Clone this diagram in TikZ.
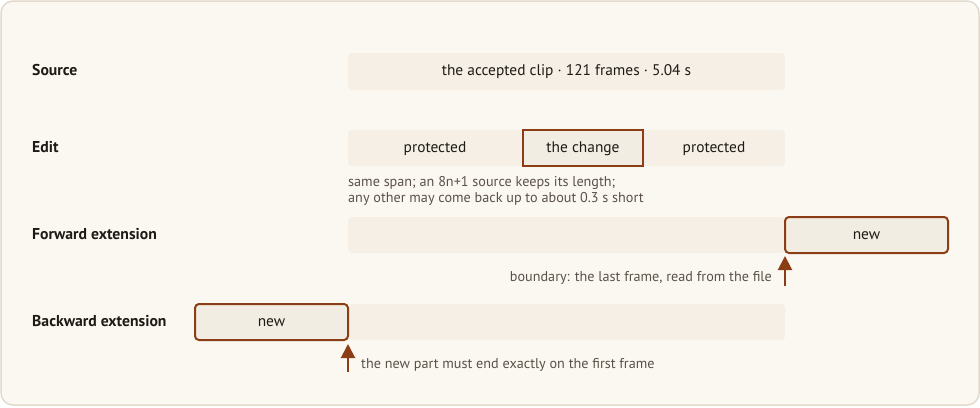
\documentclass[tikz,border=0pt]{standalone}
\usepackage{fontspec}
\setmainfont{PT Sans}
\usetikzlibrary{arrows.meta}
\definecolor{bg}{HTML}{FBF8F2}
\definecolor{frame}{HTML}{E2DACD}
\definecolor{bar}{HTML}{F5EFE5}
\definecolor{newfill}{HTML}{F2EDE3}
\definecolor{brown}{HTML}{8B3E16}
\definecolor{note}{HTML}{5B5149}
\definecolor{ink}{HTML}{1E1A16}
\tikzset{
  rowlabel/.style={anchor=west, font=\fontsize{15.7}{18}\selectfont\bfseries, text=ink, inner sep=0pt},
  barbox/.style={fill=bar, rounded corners=4pt, draw=none},
  hibox/.style={fill=newfill, draw=brown, line width=2pt, rounded corners=4pt},
  boxtext/.style={font=\fontsize{15.4}{18}\selectfont, text=ink, inner sep=0pt},
  notetext/.style={font=\fontsize{14.2}{16.2}\selectfont, text=note, inner sep=0pt, align=left},
  marker/.style={draw=brown, line width=2pt, -{Triangle[width=14pt,length=14pt]}},
}
\begin{document}
\begin{tikzpicture}[x=1pt,y=-1pt]
\useasboundingbox (0,0) rectangle (980,407);
\draw[fill=bg, draw=frame, line width=1.5pt, rounded corners=12pt] (1,1) rectangle (979,405);
% labels
\node[rowlabel] (lsrc) at (32,70.5) {Source};
\node[rowlabel] (ledit) at (32,147.5) {Edit};
\node[rowlabel] (lfwd) at (32,234.5) {Forward extension};
\node[rowlabel] (lbwd) at (32,321.5) {Backward extension};
% source
\fill[barbox] (348,53) rectangle (785,90);
\node[boxtext] (src) at (566.5,72) {the accepted clip · 121 frames · 5.04 s};
% edit
\fill[barbox] (348,130) rectangle (785,166);
\node[boxtext] (p1) at (435,149) {protected};
\draw[fill=newfill, draw=brown, line width=2pt] (523,130) rectangle (643,166);
\node[boxtext] (chg) at (583,149) {the change};
\node[boxtext] (p2) at (714,149) {protected};
\node[notetext, anchor=north west] (n1) at (348,176) {same span; an 8n+1 source keeps its length;\\any other may come back up to about 0.3 s short};
% forward
\fill[barbox] (348,217) rectangle (785,253);
\draw[hibox] (785,217) rectangle (948,253);
\node[boxtext] (fnew) at (866.5,236) {new};
\coordinate (fa0) at (785,286);
\coordinate (fa1) at (785,256);
\draw[marker] (fa0) -- (fa1);
\node[notetext, anchor=east] (fn) at (772,278) {boundary: the last frame, read from the file};
% backward
\fill[barbox] (348,304) rectangle (785,340);
\draw[hibox] (195,304) rectangle (348,340);
\node[boxtext] (bnew) at (271.5,323) {new};
\coordinate (ba0) at (348,372);
\coordinate (ba1) at (348,344);
\draw[marker] (ba0) -- (ba1);
\node[notetext, anchor=west] (bn) at (361,365) {the new part must end exactly on the first frame};
\end{tikzpicture}
\end{document}
